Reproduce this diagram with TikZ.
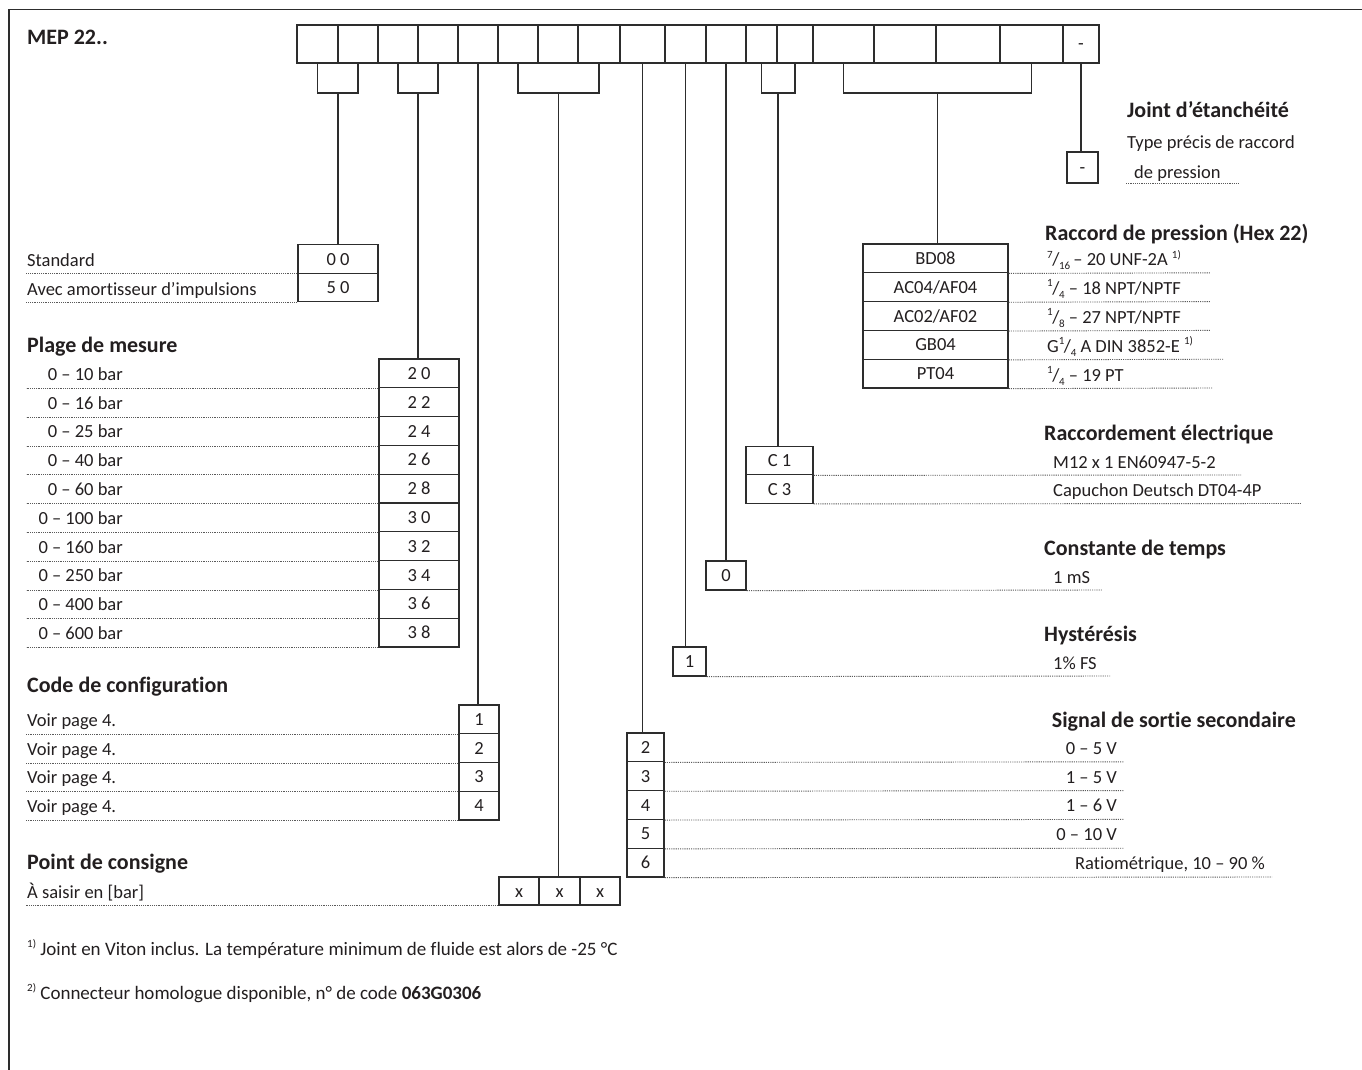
\documentclass[tikz,border=0pt]{standalone}
\usepackage{fontspec}
\setmainfont[Ligatures=NoCommon]{Carlito}
\definecolor{textc}{RGB}{35,31,32}
\definecolor{linec}{RGB}{45,45,45}
\definecolor{dotc}{RGB}{90,90,90}
\newcommand\bodyfont{\fontsize{18.5}{22}\selectfont}
\newcommand\headfont{\fontsize{22}{26}\selectfont\bfseries}
\newcommand\fnfont{\fontsize{19}{22}\selectfont}
\newcommand\smtxt[1]{{\fontsize{11}{11}\selectfont #1}}
\newcommand\supmark[1]{\raisebox{0.42em}{\smtxt{#1}}}
\newcommand\myfrac[2]{\raisebox{0.42em}{\smtxt{#1}}\kern-0.5pt/\kern-0.3pt\raisebox{-0.22em}{\smtxt{#2}}}
\tikzset{
  boxline/.style={draw=linec, line width=1.3pt},
  cellbox/.style={boxline, inner sep=0pt, text height=12pt, text depth=0pt, font=\bodyfont, text=textc},
  conn/.style={draw=linec, line width=1.3pt},
  dotl/.style={draw=dotc, line width=0.9pt, dash pattern=on 1.1pt off 1.1pt},
  lbl/.style={inner sep=0pt, font=\bodyfont, text=textc},
  head/.style={inner sep=0pt, font=\headfont, text=textc},
  fnote/.style={inner sep=0pt, font=\fnfont, text=textc},
  border/.style={draw=linec, line width=1.5pt}
}
\begin{document}
\begin{tikzpicture}[x=1pt, y=-1pt]
\useasboundingbox (0,0) rectangle (1362,1070);
\fill[white] (0,0) rectangle (1362,1070);
\draw[border] (9,1070) -- (9,9.5) -- (1362,9.5);

% title
\node[head, anchor=base west] (mep) at (27,45) {MEP 22..};

% top code row
\foreach \i/\xa/\xb in {1/297/338, 2/338/378, 3/378/418, 4/418/458, 5/458/498, 6/498/538, 7/538/578, 8/578/620, 9/620/665, 10/665/706, 11/706/746, 12/746/777, 13/777/813, 14/813/874, 15/874/936, 16/936/1000, 17/1000/1063}{
  \pgfmathsetmacro\w{\xb-\xa}
  \pgfmathsetmacro\xc{(\xa+\xb)/2}
  \node[cellbox, minimum width=\w pt, minimum height=38pt] (t\i) at (\xc,44) {};
}
\node[cellbox, minimum width=36pt, minimum height=38pt] (t18) at (1081,44) {-};

% ---------- left: Standard / amortisseur ----------
\node[cellbox, minimum width=80pt, minimum height=28.5pt] (s1) at (338,259) {0 0};
\node[cellbox, minimum width=80pt, minimum height=28.5pt] (s2) at (338,287.5) {5 0};
\node[lbl, anchor=base west] (sl1) at (27,266.5) {Standard};
\node[lbl, anchor=base west] (sl2) at (27,295.5) {Avec amortisseur d’impulsions};
\draw[dotl] (s1.south west) -- ++(-271,0);
\draw[dotl] (s2.south west) -- ++(-271,0);

% ---------- Plage de mesure ----------
\node[head, anchor=base west] (hplage) at (27,352) {Plage de mesure};
\foreach \i/\lab/\code in {1/0 – 10 bar/2 0, 2/0 – 16 bar/2 2, 3/0 – 25 bar/2 4, 4/0 – 40 bar/2 6, 5/0 – 60 bar/2 8, 6/0 – 100 bar/3 0, 7/0 – 160 bar/3 2, 8/0 – 250 bar/3 4, 9/0 – 400 bar/3 6, 10/0 – 600 bar/3 8}{
  \pgfmathsetmacro\yc{359+28.8*(\i-0.5)}
  \pgfmathsetmacro\yb{359+28.8*\i-7.5}
  \node[cellbox, minimum width=80pt, minimum height=28.8pt] (p\i) at (419,\yc) {\code};
  \node[lbl, anchor=base east] (pl\i) at (123,\yb) {\lab};
  \draw[dotl] (p\i.south west) -- ++(-352,0);
}

% ---------- Code de configuration ----------
\node[head, anchor=base west] (hconf) at (27,692) {Code de configuration};
\foreach \i in {1,2,3,4}{
  \pgfmathsetmacro\yc{705+28.75*(\i-0.5)}
  \pgfmathsetmacro\yb{705+28.75*\i-7.5}
  \node[cellbox, minimum width=40pt, minimum height=28.75pt] (g\i) at (479,\yc) {\i};
  \node[lbl, anchor=base west] (gl\i) at (27,\yb) {Voir page 4.};
  \draw[dotl] (g\i.south west) -- ++(-432,0);
}

% ---------- Point de consigne ----------
\node[head, anchor=base west] (hpoint) at (27,869) {Point de consigne};
\node[lbl, anchor=base west] (xl) at (27,898) {À saisir en [bar]};
\node[cellbox, minimum width=40pt, minimum height=28pt] (x1) at (519,891) {x};
\node[cellbox, minimum width=41pt, minimum height=28pt] (x2) at (559.5,891) {x};
\node[cellbox, minimum width=40pt, minimum height=28pt] (x3) at (600,891) {x};
\draw[dotl] (x1.south west) -- ++(-472,0);

% ---------- Signal de sortie secondaire ----------
\node[head, anchor=base east] (hsig) at (1296,727) {Signal de sortie secondaire};
\foreach \i/\code/\lab in {1/2/0 – 5 V, 2/3/1 – 5 V, 3/4/1 – 6 V, 4/5/0 – 10 V}{
  \pgfmathsetmacro\yc{733+28.8*(\i-0.5)}
  \pgfmathsetmacro\yb{733+28.8*\i-7.5}
  \node[cellbox, minimum width=37pt, minimum height=28.8pt] (sg\i) at (645.5,\yc) {\code};
  \node[lbl, anchor=base east] (sgl\i) at (1117,\yb) {\lab};
  \draw[dotl] (sg\i.south east) -- (1124,\yb+7.5);
}
\node[cellbox, minimum width=37pt, minimum height=28.8pt] (sg5) at (645.5,862.6) {6};
\node[lbl, anchor=base east] (sgl5) at (1265,869.5) {Ratiométrique, 10 – 90 \%};
\draw[dotl] (sg5.south east) -- (1272,877);

% ---------- Hystérésis ----------
\node[head, anchor=base west] (hhys) at (1044,641) {Hystérésis};
\node[cellbox, minimum width=33pt, minimum height=29pt] (hy) at (689.5,661.5) {1};
\node[lbl, anchor=base west] (hyl) at (1053,669) {1\% FS};
\draw[dotl] (hy.south east) -- (1110,676);

% ---------- Constante de temps ----------
\node[head, anchor=base west] (hct) at (1044,555) {Constante de temps};
\node[cellbox, minimum width=40pt, minimum height=29pt] (ct) at (726,575.5) {0};
\node[lbl, anchor=base west] (ctl) at (1053,583) {1 mS};
\draw[dotl] (ct.south east) -- (1102,590);

% ---------- Raccordement électrique ----------
\node[head, anchor=base west] (hel) at (1044,440) {Raccordement électrique};
\node[cellbox, minimum width=67pt, minimum height=28.5pt] (c1) at (779.5,460.5) {C 1};
\node[cellbox, minimum width=67pt, minimum height=28.5pt] (c2) at (779.5,489) {C 3};
\node[lbl, anchor=base west] (cl1) at (1053,468) {M12 x 1 EN60947-5-2};
\node[lbl, anchor=base west] (cl2) at (1053,496.5) {Capuchon Deutsch DT04-4P};
\draw[dotl] (c1.south east) -- (1241,475);
\draw[dotl] (c2.south east) -- (1301,503.5);

% ---------- Raccord de pression ----------
\node[head, anchor=base west] (hrac) at (1045,240) {Raccord de pression (Hex 22)};
\node[cellbox, minimum width=145pt, minimum height=28.8pt] (r1) at (935.5,258.4) {BD08};
\node[cellbox, minimum width=145pt, minimum height=28.8pt] (r2) at (935.5,287.2) {AC04/AF04};
\node[cellbox, minimum width=145pt, minimum height=28.8pt] (r3) at (935.5,316.0) {AC02/AF02};
\node[cellbox, minimum width=145pt, minimum height=28.8pt] (r4) at (935.5,344.8) {GB04};
\node[cellbox, minimum width=145pt, minimum height=28.8pt] (r5) at (935.5,373.6) {PT04};
\node[lbl, anchor=base west] (rl1) at (1047,265.8) {\myfrac{7}{16}\,– 20 UNF-2A \supmark{1)}};
\node[lbl, anchor=base west] (rl2) at (1047,294.6) {\myfrac{1}{4} – 18 NPT/NPTF};
\node[lbl, anchor=base west] (rl3) at (1047,323.4) {\myfrac{1}{8} – 27 NPT/NPTF};
\node[lbl, anchor=base west] (rl4) at (1047,352.2) {G\myfrac{1}{4} A DIN 3852-E \supmark{1)}};
\node[lbl, anchor=base west] (rl5) at (1047,381.0) {\myfrac{1}{4} – 19 PT};
\draw[dotl] (r1.south east) -- (1210,272.8);
\draw[dotl] (r2.south east) -- (1210,301.6);
\draw[dotl] (r3.south east) -- (1210,330.4);
\draw[dotl] (r4.south east) -- (1224,359.2);
\draw[dotl] (r5.south east) -- (1212,388.0);

% ---------- Joint d'étanchéité ----------
\node[head, anchor=base west] (hjo) at (1127,118) {Joint d'étanchéité};
\node[lbl, anchor=base west] (jl1) at (1127,148) {Type précis de raccord};
\node[lbl, anchor=base west] (jl2) at (1134,178) {de pression};
\node[cellbox, minimum width=31pt, minimum height=31pt] (jt) at (1082.5,167.5) {-};
\draw[dotl] (1126,183) -- (1240,183);

% ---------- connectors ----------
\coordinate (ba) at (338,93);
\draw[conn] (t1.south) |- (ba) -| (t2.south);
\draw[conn] (ba) -- (ba |- s1.north);
\coordinate (bb) at (418,93);
\draw[conn] (t3.south) |- (bb) -| (t4.south);
\draw[conn] (bb) -- (bb |- p1.north);
\draw[conn] (t5.south) -- (t5.south |- g1.north);
\coordinate (bc) at (558.5,93);
\draw[conn] (t6.south) |- (bc) -| (t8.south);
\draw[conn] (bc) -- (bc |- x2.north);
\draw[conn] (t9.south) -- (t9.south |- sg1.north);
\draw[conn] (t10.south) -- (t10.south |- hy.north);
\draw[conn] (t11.south) -- (t11.south |- ct.north);
\coordinate (bd) at (778,93);
\draw[conn] (t12.south) |- (bd) -| (t13.south);
\draw[conn] (bd) -- (bd |- c1.north);
\coordinate (be) at (937.5,93);
\draw[conn] (t14.south) |- (be) -| (t17.south);
\draw[conn] (be) -- (be |- r1.north);
\draw[conn] (t18.south) -- (t18.south |- jt.north);

% ---------- footnotes ----------
\node[fnote, anchor=base west] (fn1) at (27,955) {\supmark{1)} Joint en Viton inclus. La température minimum de fluide est alors de -25 °C};
\node[fnote, anchor=base west] (fn2) at (27,999) {\supmark{2)} Connecteur homologue disponible, n° de code \textbf{063G0306}};
\end{tikzpicture}
\end{document}
